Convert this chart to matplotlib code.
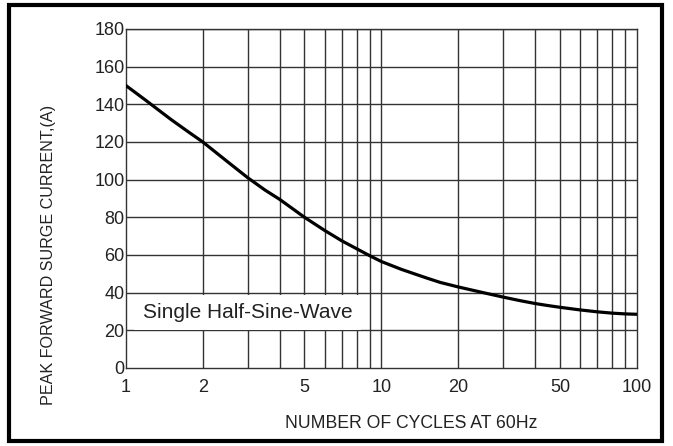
import matplotlib.pyplot as plt
from matplotlib.patches import Rectangle

plt.rcParams['font.family'] = ['Liberation Sans', 'DejaVu Sans']

# Values
ciclos = [1, 1.2, 1.5, 1.75, 2, 2.5, 3, 3.5, 4, 4.5, 5, 6, 7, 8, 9, 10,
          12, 15, 17, 20, 25, 30, 35, 40, 45, 50, 60, 70, 80, 90, 100]
corriente = [150, 142, 132, 125.5, 120, 109.5, 101, 94.5, 89.5, 84.5, 80, 73, 67.5, 63.3, 59.6, 56.5,
             52.3, 47.8, 45.4, 43, 40, 37.6, 35.7, 34.2, 33.1, 32.2, 30.8, 29.8, 29.1, 28.7, 28.5]

xticks = [1, 2, 5, 10, 20, 50, 100]
yticks = [0, 20, 40, 60, 80, 100, 120, 140, 160, 180]
grid_x = [2, 3, 4, 5, 6, 7, 8, 9, 10, 20, 30, 40, 50, 60, 70, 80, 90]

fig = plt.figure(figsize=(6.73, 4.46), dpi=100)
ax = fig.add_axes([0.187, 0.175, 0.7595, 0.76])

for gx in grid_x:
    ax.axvline(gx, color='#333333', lw=1.0, zorder=1)
for gy in yticks[1:]:
    ax.axhline(gy, color='#333333', lw=1.0, zorder=1)

ax.plot(ciclos, corriente, color='black', lw=2.3, zorder=4)

ax.set_xscale('log')
ax.set_xlim(1, 100)
ax.set_ylim(0, 180)
ax.set_xticks(xticks)
ax.set_xticklabels([str(t) for t in xticks])
ax.minorticks_off()
ax.set_yticks(yticks)
ax.tick_params(length=0, labelsize=13, colors='#222222')
ax.tick_params(axis='y', pad=1)
ax.tick_params(axis='x', pad=8)
for s in ax.spines.values():
    s.set_color('#333333')
    s.set_linewidth(1.0)

ax.text(1.165, 29.5, 'Single Half-Sine-Wave', fontsize=15, color='#222222',
        va='center', ha='left', zorder=5,
        bbox=dict(facecolor='white', edgecolor='none', pad=6))

ax.set_xlabel('NUMBER OF CYCLES AT 60Hz', fontsize=12.7, color='#222222')
ax.set_ylabel('PEAK FORWARD SURGE CURRENT,(A)', fontsize=11.6, color='#222222')
ax.xaxis.set_label_coords(0.558, -0.139)
ax.yaxis.set_label_coords(-0.137, 0.333)

# Outer frame
fig.patches.append(Rectangle((0.013, 0.012), 0.971, 0.976, transform=fig.transFigure,
                             fill=False, edgecolor='black', lw=3))

fig.savefig('out.png', dpi=100)
